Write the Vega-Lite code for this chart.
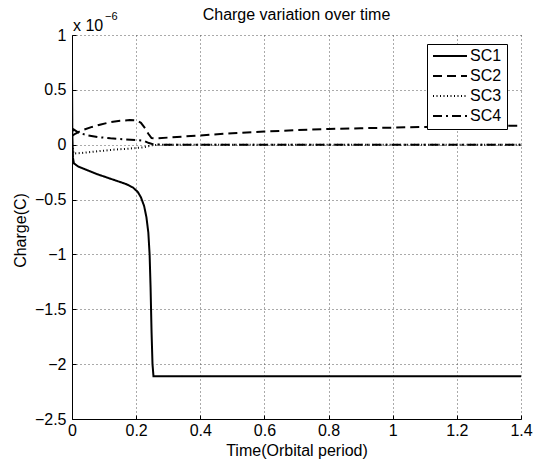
{
  "$schema": "https://vega.github.io/schema/vega-lite/v6.json",
  "autosize": {"type": "none"},
  "padding": {"left": 72, "top": 35, "right": 13, "bottom": 41},
  "width": 449,
  "height": 384,
  "background": "white",
  "title": {"text": "Charge variation over time", "fontSize": 16, "fontWeight": "normal", "font": "Liberation Sans", "color": "black", "offset": -12},
  "config": {
    "view": {"stroke": null},
    "axis": {
      "labelFont": "Liberation Sans", "labelFontSize": 16, "labelColor": "black",
      "titleFont": "Liberation Sans", "titleFontSize": 16, "titleFontWeight": "normal", "titleColor": "black",
      "domainColor": "black", "domainWidth": 1,
      "tickColor": "black", "tickSize": -4, "tickWidth": 1,
      "gridColor": "#555", "gridDash": [1, 3], "gridWidth": 1,
      "labelFlush": false, "format": "~g"
    },
    "legend": {"labelFont": "Liberation Sans"}
  },
  "datasets": {
    "curves": [
      {"t": 0, "q": 0.65, "s": "SC1"},
      {"t": 0.001, "q": 0.1, "s": "SC1"},
      {"t": 0.003, "q": -0.12, "s": "SC1"},
      {"t": 0.006, "q": -0.17, "s": "SC1"},
      {"t": 0.02, "q": -0.2, "s": "SC1"},
      {"t": 0.05, "q": -0.235, "s": "SC1"},
      {"t": 0.08, "q": -0.27, "s": "SC1"},
      {"t": 0.11, "q": -0.3, "s": "SC1"},
      {"t": 0.14, "q": -0.33, "s": "SC1"},
      {"t": 0.17, "q": -0.36, "s": "SC1"},
      {"t": 0.19, "q": -0.39, "s": "SC1"},
      {"t": 0.205, "q": -0.43, "s": "SC1"},
      {"t": 0.215, "q": -0.48, "s": "SC1"},
      {"t": 0.225, "q": -0.56, "s": "SC1"},
      {"t": 0.232, "q": -0.66, "s": "SC1"},
      {"t": 0.238, "q": -0.8, "s": "SC1"},
      {"t": 0.242, "q": -1.0, "s": "SC1"},
      {"t": 0.245, "q": -1.3, "s": "SC1"},
      {"t": 0.248, "q": -1.7, "s": "SC1"},
      {"t": 0.251, "q": -2.0, "s": "SC1"},
      {"t": 0.254, "q": -2.11, "s": "SC1"},
      {"t": 0.3, "q": -2.11, "s": "SC1"},
      {"t": 1.4, "q": -2.11, "s": "SC1"},
      {"t": 0, "q": 0.08, "s": "SC2"},
      {"t": 0.01, "q": 0.1, "s": "SC2"},
      {"t": 0.03, "q": 0.13, "s": "SC2"},
      {"t": 0.06, "q": 0.16, "s": "SC2"},
      {"t": 0.09, "q": 0.185, "s": "SC2"},
      {"t": 0.12, "q": 0.205, "s": "SC2"},
      {"t": 0.15, "q": 0.218, "s": "SC2"},
      {"t": 0.18, "q": 0.225, "s": "SC2"},
      {"t": 0.2, "q": 0.222, "s": "SC2"},
      {"t": 0.215, "q": 0.2, "s": "SC2"},
      {"t": 0.228, "q": 0.15, "s": "SC2"},
      {"t": 0.238, "q": 0.1, "s": "SC2"},
      {"t": 0.248, "q": 0.06, "s": "SC2"},
      {"t": 0.26, "q": 0.058, "s": "SC2"},
      {"t": 0.3, "q": 0.065, "s": "SC2"},
      {"t": 0.4, "q": 0.085, "s": "SC2"},
      {"t": 0.5, "q": 0.105, "s": "SC2"},
      {"t": 0.6, "q": 0.12, "s": "SC2"},
      {"t": 0.7, "q": 0.133, "s": "SC2"},
      {"t": 0.8, "q": 0.143, "s": "SC2"},
      {"t": 0.9, "q": 0.15, "s": "SC2"},
      {"t": 1.0, "q": 0.156, "s": "SC2"},
      {"t": 1.1, "q": 0.162, "s": "SC2"},
      {"t": 1.2, "q": 0.166, "s": "SC2"},
      {"t": 1.3, "q": 0.17, "s": "SC2"},
      {"t": 1.4, "q": 0.173, "s": "SC2"},
      {"t": 0, "q": 0.0, "s": "SC3"},
      {"t": 0.005, "q": -0.08, "s": "SC3"},
      {"t": 0.03, "q": -0.075, "s": "SC3"},
      {"t": 0.08, "q": -0.06, "s": "SC3"},
      {"t": 0.13, "q": -0.045, "s": "SC3"},
      {"t": 0.18, "q": -0.035, "s": "SC3"},
      {"t": 0.22, "q": -0.025, "s": "SC3"},
      {"t": 0.25, "q": -0.005, "s": "SC3"},
      {"t": 0.27, "q": 0, "s": "SC3"},
      {"t": 1.4, "q": 0, "s": "SC3"},
      {"t": 0, "q": 0.12, "s": "SC4"},
      {"t": 0.005, "q": 0.14, "s": "SC4"},
      {"t": 0.02, "q": 0.11, "s": "SC4"},
      {"t": 0.05, "q": 0.085, "s": "SC4"},
      {"t": 0.08, "q": 0.07, "s": "SC4"},
      {"t": 0.12, "q": 0.058, "s": "SC4"},
      {"t": 0.16, "q": 0.05, "s": "SC4"},
      {"t": 0.2, "q": 0.043, "s": "SC4"},
      {"t": 0.225, "q": 0.035, "s": "SC4"},
      {"t": 0.24, "q": 0.015, "s": "SC4"},
      {"t": 0.255, "q": 0.002, "s": "SC4"},
      {"t": 0.3, "q": 0, "s": "SC4"},
      {"t": 1.4, "q": 0, "s": "SC4"}
    ],
    "exponent": [{"base": "x 10", "exp": "−6"}]
  },
  "layer": [
    {
      "data": {"name": "curves"},
      "mark": {"type": "line", "color": "black", "clip": true},
      "encoding": {
        "x": {"field": "t", "type": "quantitative",
              "scale": {"domain": [0, 1.4], "nice": false, "zero": false},
              "axis": {"values": [0, 0.2, 0.4, 0.6, 0.8, 1, 1.2, 1.4], "title": "Time(Orbital period)", "labelPadding": 7, "titleBaseline": "middle", "titleY": 31}},
        "y": {"field": "q", "type": "quantitative",
              "scale": {"domain": [-2.5, 1], "nice": false, "zero": false},
              "axis": {"values": [-2.5, -2, -1.5, -1, -0.5, 0, 0.5, 1], "title": "Charge(C)", "labelPadding": 10, "titleX": -52, "titleY": 195, "titleBaseline": "middle", "titleAlign": "center", "titleAngle": -90}},
        "order": {"field": "t", "type": "quantitative"},
        "detail": {"field": "s"},
        "strokeDash": {"field": "s", "type": "nominal",
          "scale": {"domain": ["SC1", "SC2", "SC3", "SC4"], "range": [[1, 0], [9, 5], [1, 2.5], [9, 4, 2, 4]]},
          "legend": {"title": null, "orient": "none", "legendX": 355, "legendY": 9,
                     "fillColor": "white", "strokeColor": "black", "cornerRadius": 0,
                     "padding": 5, "clipHeight": 14, "rowPadding": 4, "symbolSize": 1156, "symbolType": "stroke",
                     "symbolStrokeColor": "black", "labelOffset": 2, "labelFontSize": 16, "labelColor": "black"}},
        "strokeWidth": {"field": "s", "type": "nominal",
          "scale": {"domain": ["SC1", "SC2", "SC3", "SC4"], "range": [2, 2, 1, 1.8]},
          "legend": null}
      }
    },
    {
      "data": {"name": "exponent"},
      "mark": {"type": "text", "align": "left", "baseline": "alphabetic", "font": "Liberation Sans", "fontSize": 16, "color": "black", "dx": 1, "dy": -4},
      "encoding": {
        "x": {"datum": 0, "type": "quantitative"},
        "y": {"datum": 1, "type": "quantitative"},
        "text": {"field": "base"}
      }
    },
    {
      "data": {"name": "exponent"},
      "mark": {"type": "text", "align": "left", "baseline": "alphabetic", "font": "Liberation Sans", "fontSize": 11, "color": "black", "dx": 33, "dy": -15},
      "encoding": {
        "x": {"datum": 0, "type": "quantitative"},
        "y": {"datum": 1, "type": "quantitative"},
        "text": {"field": "exp"}
      }
    }
  ]
}
